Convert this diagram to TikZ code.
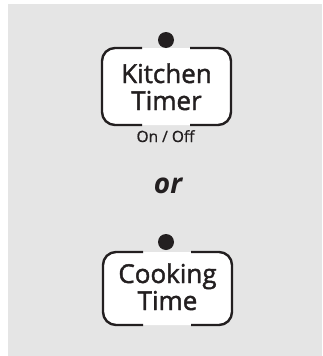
\documentclass[tikz,border=0pt]{standalone}
\usepackage{fontspec}
\setmainfont{Open Sans}
\newfontfamily\btnfont[FakeBold=1.6]{Open Sans}
\newfontfamily\smfont[FakeBold=0.8]{Open Sans}
\definecolor{bg}{HTML}{E5E5E5}
\definecolor{ink}{HTML}{231F20}
\begin{document}
\begin{tikzpicture}[x=1pt,y=-1pt,
  bracket/.style={draw=ink,line width=2.4pt,rounded corners=13pt},
  dotmark/.style={circle,fill=ink,inner sep=0pt,minimum size=16pt},
  btntext/.style={font=\btnfont\fontsize{26}{27}\selectfont,text=ink,align=center,inner sep=0pt},
  small/.style={font=\smfont\fontsize{15.5}{16}\selectfont,text=ink,inner sep=0pt}]
\useasboundingbox (0,0) rectangle (322,356);
\fill[white] (0,0) rectangle (322,356);
\fill[bg] (8,4) rectangle (322,356);
% button 1
\fill[white,rounded corners=13pt] (102,48) rectangle (231,125);
\draw[bracket] (142,48) -- (102,48) -- (102,125) -- (142,125);
\draw[bracket] (190,48) -- (231,48) -- (231,125) -- (190,125);
\node[dotmark] (d1) at (166,40) {};
\node[btntext,anchor=base] (k1) at (166.5,83) {Kitchen};
\node[btntext,anchor=base] (k2) at (166.5,110) {Timer};
\node[small,anchor=base] (onoff) at (165.5,142) {On / Off};
% or
\node[font=\fontsize{28}{28}\selectfont\bfseries\itshape,text=ink,anchor=base,inner sep=0pt] (or) at (168,193) {or};
% button 2
\fill[white,rounded corners=13pt] (103,252) rectangle (232,325);
\draw[bracket] (143,252) -- (103,252) -- (103,325) -- (143,325);
\draw[bracket] (191,252) -- (232,252) -- (232,325) -- (191,325);
\node[dotmark] (d2) at (166,242) {};
\node[btntext,anchor=base] (c1) at (167.5,283) {Cooking};
\node[btntext,anchor=base] (c2) at (167.5,310) {Time};
\end{tikzpicture}
\end{document}
